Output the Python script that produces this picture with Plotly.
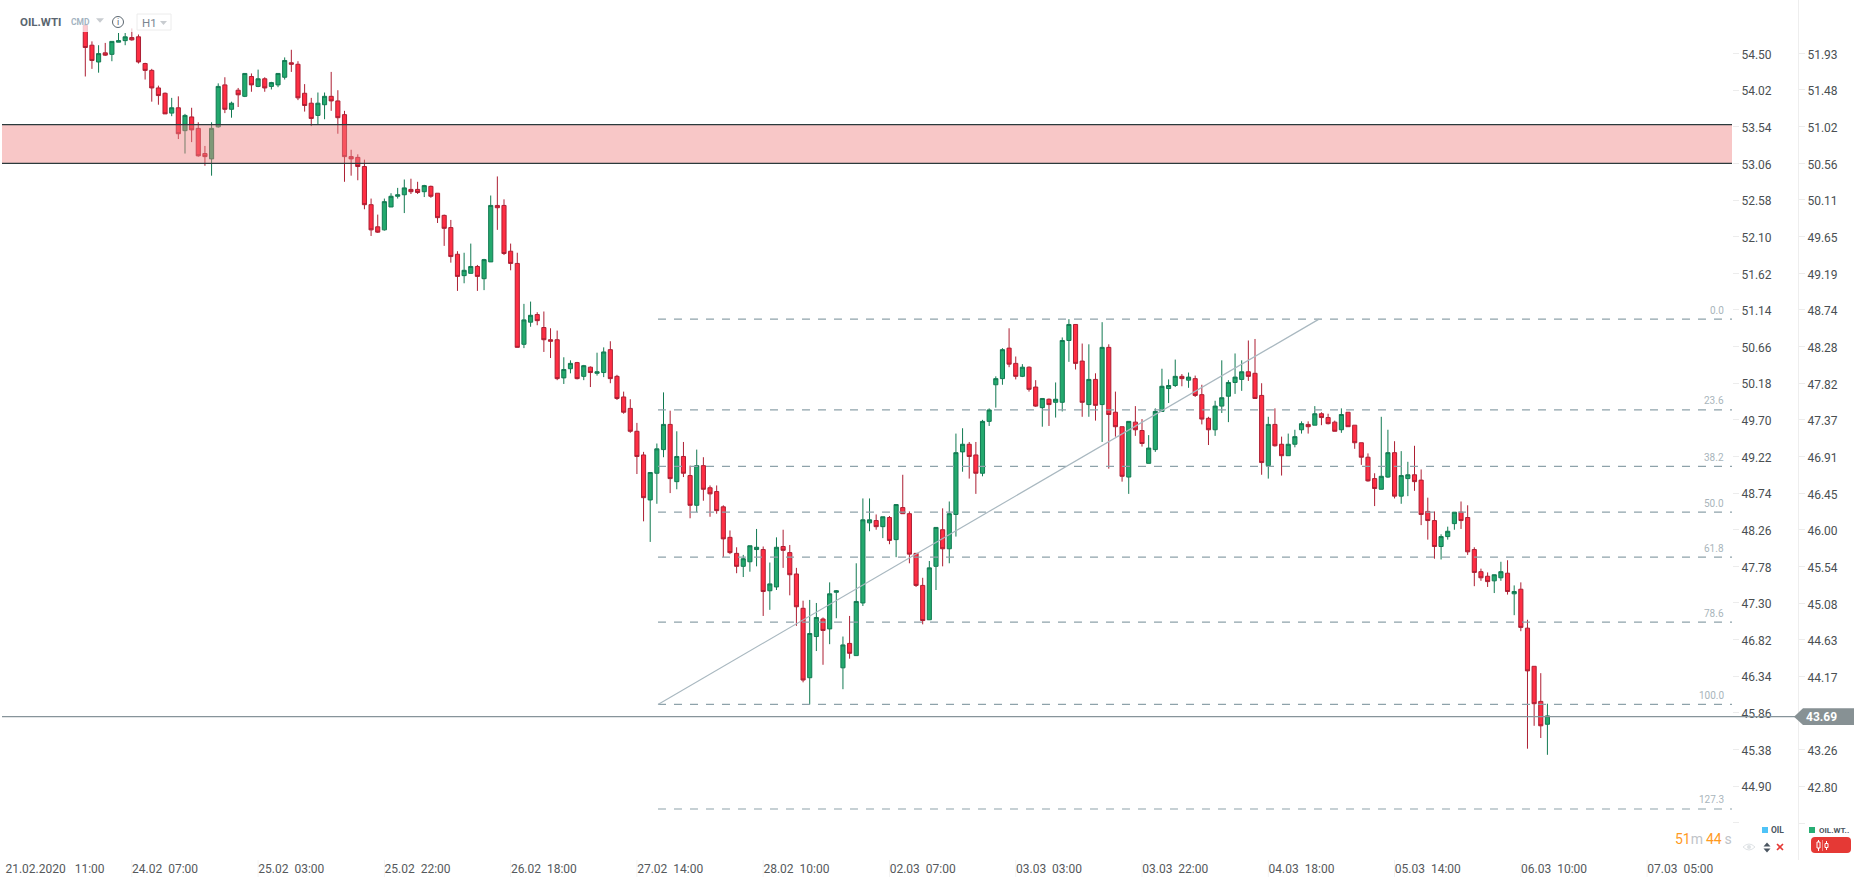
import plotly.graph_objects as go

W, H = 1866, 885

open_ = [
54.87,54.61,54.39,54.51,54.49,54.65,54.67,54.71,54.72,54.37,
54.28,54.05,53.98,53.72,53.79,53.49,53.67,53.52,53.19,53.12,
53.54,54.09,53.77,54.02,53.94,54.20,54.07,54.17,54.07,54.09,
54.19,54.38,54.36,53.98,53.85,53.69,53.83,53.94,53.88,53.70,
53.15,53.14,53.02,52.52,52.23,52.19,52.49,52.63,52.65,52.72,
52.72,52.69,52.76,52.67,52.38,52.22,51.87,51.59,51.62,51.71,
51.55,51.77,52.51,52.51,51.91,51.75,50.69,50.98,51.08,50.91,
50.75,50.75,50.25,50.37,50.45,50.27,50.39,50.31,50.32,50.62,
50.27,50.00,49.85,49.55,49.24,48.65,49.00,49.31,49.64,48.89,
49.22,48.97,48.58,49.10,48.81,48.76,48.56,48.16,47.95,47.78,
47.84,48.00,48.00,47.46,47.51,48.04,47.96,47.68,47.23,46.32,
46.86,47.09,46.96,47.44,46.45,46.77,46.61,47.30,48.35,48.38,
48.30,48.42,48.13,48.55,48.47,47.95,47.53,47.08,47.78,48.26,
48.01,48.46,49.28,49.38,49.24,49.00,49.68,50.16,50.24,50.64,
50.44,50.27,50.39,50.13,49.86,49.97,49.93,49.93,50.74,50.95,
50.47,49.90,50.23,49.90,50.65,49.80,49.61,48.95,49.67,49.56,
49.13,49.31,49.81,50.11,50.15,50.27,50.22,50.24,50.03,49.72,
49.57,49.88,50.01,50.19,50.23,50.33,50.31,50.02,49.10,49.64,
49.38,49.23,49.38,49.57,49.64,49.63,49.78,49.73,49.67,49.57,
49.80,49.63,49.40,49.21,48.93,48.79,48.95,49.27,48.70,48.93,
48.98,48.91,48.50,48.38,48.04,48.17,48.34,48.49,48.42,48.00,
47.71,47.65,47.59,47.63,47.69,47.42,47.48,46.97,46.47,46.01,45.71,
]
close = [
54.58,54.41,54.50,54.48,54.66,54.67,54.72,54.68,54.39,54.28,
54.05,53.95,53.71,53.79,53.45,53.69,53.50,53.16,53.15,53.52,
54.07,53.77,53.85,53.96,54.24,54.09,54.17,54.05,54.12,54.24,
54.41,54.36,53.92,53.82,53.65,53.85,53.94,53.88,53.66,53.15,
53.12,53.02,52.52,52.19,52.16,52.56,52.63,52.65,52.74,52.69,
52.68,52.77,52.63,52.35,52.21,51.84,51.58,51.66,51.71,51.58,
51.80,52.51,52.48,51.88,51.75,50.65,51.01,51.07,51.00,50.75,
50.73,50.24,50.36,50.44,50.24,50.41,50.32,50.33,50.59,50.24,
49.98,49.80,49.55,49.22,48.68,49.01,49.32,49.64,48.93,49.22,
49.00,48.58,49.10,48.79,48.73,48.51,48.14,47.96,47.78,47.88,
48.05,48.03,47.45,47.55,48.03,47.99,47.67,47.25,46.29,46.90,
47.11,46.94,47.42,47.46,46.75,46.64,47.32,48.39,48.39,48.30,
48.43,48.12,48.59,48.47,47.94,47.53,47.07,47.76,48.29,48.01,
48.47,49.27,49.38,49.22,49.00,49.68,49.83,50.24,50.62,50.43,
50.27,50.39,50.10,49.88,49.98,49.90,49.97,50.74,50.95,50.44,
49.93,50.23,49.89,50.65,49.77,49.61,48.96,49.68,49.57,49.39,
49.33,49.81,50.14,50.15,50.27,50.24,50.26,50.02,49.71,49.57,
49.88,49.99,50.19,50.26,50.33,50.27,49.98,49.14,49.64,49.36,
49.23,49.38,49.48,49.65,49.61,49.78,49.73,49.65,49.55,49.77,
49.61,49.40,49.21,48.90,48.80,48.96,49.27,48.70,48.97,48.98,
48.89,48.46,48.38,48.04,48.17,48.24,48.49,48.38,47.97,47.70,
47.63,47.58,47.67,47.71,47.45,47.45,46.98,46.41,45.98,45.69,45.82,
]
high = [
54.89,54.66,54.61,54.64,54.66,54.77,54.77,54.83,54.75,54.38,
54.30,54.08,53.99,53.92,53.94,53.71,53.79,53.60,53.29,53.60,
54.11,54.19,53.87,54.05,54.24,54.24,54.29,54.19,54.13,54.24,
54.45,54.55,54.40,54.10,53.92,53.99,53.99,54.26,54.02,53.75,
53.24,53.18,53.11,52.60,52.39,52.60,52.67,52.74,52.85,52.86,
52.82,52.78,52.77,52.67,52.39,52.32,51.91,51.89,52.01,51.73,
51.81,52.64,52.89,52.59,52.01,51.89,51.22,51.25,51.11,51.12,
50.90,50.87,50.52,50.48,50.46,50.42,50.40,50.58,50.65,50.73,
50.29,50.07,49.97,49.66,49.28,49.01,49.39,50.06,49.82,49.55,
49.41,49.10,49.31,49.21,48.84,48.84,48.58,48.25,48.03,47.93,
48.05,48.27,48.04,47.83,48.16,48.26,48.06,47.76,47.33,47.34,
47.30,47.11,47.57,47.47,46.86,47.13,47.82,48.67,48.67,48.46,
48.43,48.44,48.59,48.98,48.50,47.95,47.63,47.85,48.29,48.54,
48.63,49.52,49.59,49.41,49.41,49.70,49.85,50.27,50.64,50.90,
50.53,50.43,50.40,50.22,49.98,49.98,50.19,50.78,51.02,50.95,
50.70,50.69,50.31,50.98,50.69,50.07,49.61,49.68,49.88,49.71,
49.50,49.85,50.37,50.23,50.49,50.30,50.32,50.28,50.16,49.74,
49.95,50.48,50.22,50.57,50.48,50.74,50.76,50.18,49.74,49.85,
49.48,49.52,49.57,49.68,49.68,49.88,49.80,49.78,49.69,49.85,
49.80,49.63,49.40,49.26,49.00,49.74,49.57,49.42,49.29,49.15,
49.36,49.05,48.68,48.50,48.20,48.30,48.49,48.63,48.58,48.03,
47.75,47.70,47.67,47.84,47.86,47.53,47.57,47.08,46.47,46.38,45.98,
]
low = [
54.20,54.30,54.25,54.47,54.40,54.65,54.61,54.67,54.37,54.16,
53.87,53.83,53.71,53.68,53.38,53.19,53.34,53.15,53.03,52.90,
53.53,53.72,53.66,53.80,53.93,54.00,54.06,54.00,54.03,54.06,
54.16,54.26,53.89,53.74,53.55,53.57,53.64,53.75,53.45,52.82,
52.90,52.84,52.46,52.11,52.15,52.18,52.49,52.60,52.41,52.66,
52.66,52.62,52.61,52.28,51.98,51.76,51.39,51.49,51.62,51.39,
51.40,51.77,52.19,51.86,51.66,50.65,50.64,50.92,50.94,50.59,
50.51,50.22,50.17,50.31,50.23,50.22,50.13,50.28,50.26,50.18,
49.96,49.78,49.53,48.99,48.37,48.10,48.60,49.21,48.74,48.79,
48.95,48.41,48.49,48.64,48.43,48.47,47.90,47.94,47.69,47.64,
47.71,47.78,47.13,47.21,47.47,47.76,47.40,47.00,46.26,45.97,
46.67,46.49,46.76,47.10,46.17,46.57,46.61,47.26,48.24,48.26,
48.15,48.07,47.90,48.47,47.82,47.51,47.02,47.08,47.47,47.78,
47.82,48.17,49.02,48.93,48.73,48.96,49.62,49.86,50.16,50.39,
50.23,50.26,50.07,49.87,49.61,49.62,49.73,49.81,50.46,50.36,
49.74,49.74,49.69,49.41,49.06,49.48,48.89,48.73,49.49,49.35,
49.13,49.28,49.81,49.92,50.13,50.14,50.12,50.00,49.64,49.37,
49.49,49.79,49.67,50.04,50.08,50.21,49.98,48.98,48.93,49.35,
48.97,49.23,49.34,49.52,49.52,49.63,49.63,49.64,49.55,49.53,
49.61,49.32,49.11,48.89,48.57,48.79,48.94,48.67,48.60,48.70,
48.77,48.32,48.13,47.88,47.87,48.13,48.26,48.27,47.93,47.52,
47.59,47.51,47.43,47.59,47.41,47.14,46.93,45.39,45.69,45.53,45.31,
]
assert len(open_) == len(close) == len(high) == len(low) == 221

time_labels = ["21.02.2020\u00a0\u00a0\u00a011:00", "24.02\u00a0\u00a007:00", "25.02\u00a0\u00a003:00",
               "25.02\u00a0\u00a022:00", "26.02\u00a0\u00a018:00", "27.02\u00a0\u00a014:00",
               "28.02\u00a0\u00a010:00", "02.03\u00a0\u00a007:00", "03.03\u00a0\u00a003:00",
               "03.03\u00a0\u00a022:00", "04.03\u00a0\u00a018:00", "05.03\u00a0\u00a014:00",
               "06.03\u00a0\u00a010:00", "07.03\u00a0\u00a005:00"]
time_ticks = [-4.56, 12, 31, 50, 69, 88, 107, 126, 145, 164, 183, 202, 221, 240]

left_ticks = [54.50, 54.02, 53.54, 53.06, 52.58, 52.10, 51.62, 51.14, 50.66, 50.18, 49.70,
              49.22, 48.74, 48.26, 47.78, 47.30, 46.82, 46.34, 45.86, 45.38, 44.90, 44.42]
left_labels = [f"{v:.2f}" for v in left_ticks[:-1]] + [""]
right_ticks = [51.93, 51.48, 51.02, 50.56, 50.11, 49.65, 49.19, 48.74, 48.28, 47.82, 47.37,
               46.91, 46.45, 46.00, 45.54, 45.08, 44.63, 44.17, 43.71, 43.26, 42.80, 42.34]
right_labels = [f"{v:.2f}" for v in right_ticks]
right_labels[18] = ""
right_labels[21] = ""

zone_low, zone_high = 53.06, 53.57
current_left, current_right = 45.81, 43.69
fib_levels = [0.0, 23.6, 38.2, 50.0, 61.8, 78.6, 100.0, 127.3]
fib_prices = [51.02, 49.83, 49.09, 48.49, 47.90, 47.05, 45.97, 44.60]
fib_start_index, fib_end_index = 86.17, 185.63

SCALE_X = 6.646
X0 = 85.3
def xd(px):
    return (px - X0) / SCALE_X
def xp(px):
    return px / W
def yp(py):
    return 1 - py / H

x_range = [xd(0), xd(W)]
y_range = [55.2025 - 0.013106 * 860, 55.2025]
y2_range = [41.89, 52.60]
x_index = list(range(len(open_)))

fig = go.Figure()
fig.add_trace(go.Candlestick(
    x=x_index, open=open_, high=high, low=low, close=close,
    increasing=dict(fillcolor="#23a96e", line=dict(color="#127a52", width=1)),
    decreasing=dict(fillcolor="#ff2e43", line=dict(color="#ad1f33", width=1)),
    whiskerwidth=0, hoverinfo="skip", showlegend=False,
))
fig.add_trace(go.Scatter(x=[x_index[-1]], y=[current_right], yaxis="y2", mode="markers",
                         marker=dict(opacity=0), hoverinfo="skip", showlegend=False))

shapes = []
shapes.append(dict(type="rect", layer="above", xref="x", yref="y", x0=xd(2), x1=xd(1732),
                   y0=zone_low, y1=zone_high, fillcolor="rgba(240,130,130,0.45)", line=dict(width=0)))
for v in (zone_low, zone_high):
    shapes.append(dict(type="line", layer="above", xref="x", yref="y", x0=xd(2), x1=xd(1732), y0=v, y1=v,
                       line=dict(color="#2b3a3c", width=1.2)))
for v in fib_prices:
    shapes.append(dict(type="line", layer="above", xref="x", yref="y", x0=fib_start_index, x1=xd(1732), y0=v, y1=v,
                       line=dict(color="#8ea2aa", width=1.2, dash="8px,8px")))
shapes.append(dict(type="line", layer="above", xref="x", yref="y", x0=fib_start_index, x1=fib_end_index,
                   y0=fib_prices[6], y1=fib_prices[0], line=dict(color="#a9b8c0", width=1.2)))
shapes.append(dict(type="line", layer="above", xref="x", yref="y", x0=xd(2), x1=xd(1796), y0=current_left, y1=current_left,
                   line=dict(color="#87949a", width=1.3)))
tag_path = f"M {xp(1794)} {yp(716.7)} L {xp(1803)} {yp(708.3)} L {xp(1854)} {yp(708.3)} L {xp(1854)} {yp(725)} L {xp(1803)} {yp(725)} Z"
shapes.append(dict(type="path", layer="above", xref="paper", yref="paper", path=tag_path,
                   fillcolor="#879194", line=dict(width=0)))
shapes.append(dict(type="rect", layer="above", xref="paper", yref="paper", x0=xp(0), x1=xp(180), y0=yp(32), y1=yp(0),
                   fillcolor="rgba(255,255,255,0.75)", line=dict(width=0)))

def tri(cx, cy, w, h, color, up=False):
    s = -1 if up else 1
    return dict(type="path", layer="above", xref="paper", yref="paper",
                path=f"M {xp(cx-w/2)} {yp(cy-s*h/2)} L {xp(cx+w/2)} {yp(cy-s*h/2)} L {xp(cx)} {yp(cy+s*h/2)} Z",
                fillcolor=color, line=dict(width=0))
def prect(x0, y0, x1, y1, **kw):
    return dict(type="rect", layer="above", xref="paper", yref="paper", x0=xp(x0), x1=xp(x1), y0=yp(y1), y1=yp(y0), **kw)
def pline(x0, y0, x1, y1, color, width=1):
    return dict(type="line", layer="above", xref="paper", yref="paper", x0=xp(x0), x1=xp(x1), y0=yp(y0), y1=yp(y1),
                line=dict(color=color, width=width))
def pcircle(cx, cy, r, **kw):
    return dict(type="circle", layer="above", xref="paper", yref="paper",
                x0=xp(cx-r), x1=xp(cx+r), y0=yp(cy+r), y1=yp(cy-r), **kw)

shapes += [
    tri(100, 20.5, 8, 4.5, "#c8ccd0"),
    pcircle(118, 22, 5.5, line=dict(color="#5c6770", width=1), fillcolor="rgba(0,0,0,0)"),
    prect(137, 14, 171, 30, line=dict(color="#ececec", width=1), fillcolor="rgba(255,255,255,0)"),
    tri(163.5, 23, 7, 4, "#c8ccd0"),
]
shapes += [
    prect(1762, 827, 1768, 833, fillcolor="#4fc3f7", line=dict(width=0)),
    prect(1809, 827, 1815, 833, fillcolor="#27ae74", line=dict(width=0)),
    pcircle(1749, 847, 2, fillcolor="#dfe3e6", line=dict(width=0)),
    dict(type="path", layer="above", xref="paper", yref="paper",
         path=f"M {xp(1743)} {yp(847)} Q {xp(1749)} {yp(841)} {xp(1755)} {yp(847)} Q {xp(1749)} {yp(853)} {xp(1743)} {yp(847)} Z",
         fillcolor="rgba(0,0,0,0)", line=dict(color="#dfe3e6", width=1)),
    tri(1767, 844.5, 7, 4, "#4a5560", up=True),
    tri(1767, 850.5, 7, 4, "#4a5560"),
    pline(1777, 844, 1783, 850, "#e53935", 1.6),
    pline(1783, 844, 1777, 850, "#e53935", 1.6),
    dict(type="path", layer="above", xref="paper", yref="paper",
         path=f"M {xp(1815)} {yp(837)} L {xp(1847)} {yp(837)} Q {xp(1851)} {yp(837)} {xp(1851)} {yp(841)} L {xp(1851)} {yp(849)} Q {xp(1851)} {yp(853)} {xp(1847)} {yp(853)} L {xp(1815)} {yp(853)} Q {xp(1811)} {yp(853)} {xp(1811)} {yp(849)} L {xp(1811)} {yp(841)} Q {xp(1811)} {yp(837)} {xp(1815)} {yp(837)} Z",
         fillcolor="#e53935", line=dict(width=0)),
    pline(1818.5, 840, 1818.5, 851, "#ffffff", 1),
    prect(1817, 842, 1820, 848, fillcolor="#e53935", line=dict(color="#ffffff", width=1)),
    pline(1826.5, 841, 1826.5, 850, "#ffffff", 1),
    prect(1825, 843.5, 1828, 847.5, fillcolor="#e53935", line=dict(color="#ffffff", width=1)),
    pline(1822.5, 840, 1822.5, 851, "#f08a88", 1),
]
for t in time_ticks[1:]:
    shapes.append(dict(type="line", layer="below", xref="x", yref="paper", x0=t - 5, x1=t - 5, y0=yp(877), y1=yp(860),
                       line=dict(color="#f3f3f3", width=1)))

def text(px, py, s, size=12, color="#444", anchor="left", bold=False):
    return dict(xref="paper", yref="paper", x=xp(px), y=yp(py), text=f"<b>{s}</b>" if bold else s,
                showarrow=False, xanchor=anchor, yanchor="middle",
                font=dict(family="Roboto", size=size, color=color), borderpad=0, borderwidth=0)

annotations = [
    text(20, 22, "OIL.WTI", 11.5, "#5a6670", bold=True),
    text(71, 22, "CMD", 8.5, "#a3b3bf", bold=True),
    text(118, 22, "i", 9, "#5c6770", "center"),
    text(142, 22.5, "H1", 11.5, "#7a8590"),
    text(1821, 716.7, "43.69", 12, "#ffffff", "center", bold=True),
    text(1732, 839, '<span style="color:#ff9a1f">51</span><span style="color:#bfc4c8">m\u2009</span>'
                    '<span style="color:#ff9a1f">44</span><span style="color:#bfc4c8">\u2009s</span>', 14, "#bfc4c8", "right"),
    text(1771, 830, "OIL", 8.5, "#4a5560", bold=True),
    text(1819, 830, "OIL.WT..", 8, "#4a5560", bold=True),
]
for lv, pr in zip(fib_levels, fib_prices):
    annotations.append(dict(xref="paper", yref="y", x=xp(1726), y=pr, yshift=9, text=f"{lv:.1f}", showarrow=False,
                            xanchor="right", yanchor="middle", font=dict(family="Roboto", size=10, color="#a9b5bb")))

axis_font = dict(family="Roboto", size=12, color="#4a4f52")
fig.update_layout(
    width=W, height=H, autosize=False,
    margin=dict(l=0, r=0, t=0, b=0, pad=0),
    paper_bgcolor="#ffffff", plot_bgcolor="rgba(255,255,255,0)",
    showlegend=False, dragmode=False, boxgap=0.38, boxgroupgap=0,
    xaxis=dict(domain=[0, 1], range=x_range, showgrid=False, zeroline=False, showline=False,
               rangeslider=dict(visible=False), tickmode="array", tickvals=time_ticks, ticktext=time_labels,
               tickangle=0, ticks="", tickfont=dict(family="Roboto", size=12, color="#55595c"),
               anchor="free", position=yp(860)),
    yaxis=dict(domain=[yp(860), 1], range=y_range, showgrid=False, zeroline=False, showline=False,
               side="right", anchor="free", position=xp(1732), tickmode="array", tickvals=left_ticks, ticktext=left_labels,
               ticks="outside", ticklen=6, tickcolor="#ececec", tickwidth=1, tickfont=axis_font, ticklabelshift=1),
    yaxis2=dict(domain=[yp(860), 1], range=y2_range, overlaying="y", showgrid=False, zeroline=False,
                showline=True, linecolor="#eeeeee", linewidth=1,
                side="right", anchor="free", position=xp(1798), tickmode="array", tickvals=right_ticks, ticktext=right_labels,
                ticks="outside", ticklen=6, tickcolor="#ececec", tickwidth=1, tickfont=axis_font, ticklabelshift=1),
    shapes=shapes, annotations=annotations,
)
fig.write_html("out.html", config=dict(displayModeBar=False),
               post_script="document.body.style.margin='0';document.documentElement.style.overflow='hidden';")
